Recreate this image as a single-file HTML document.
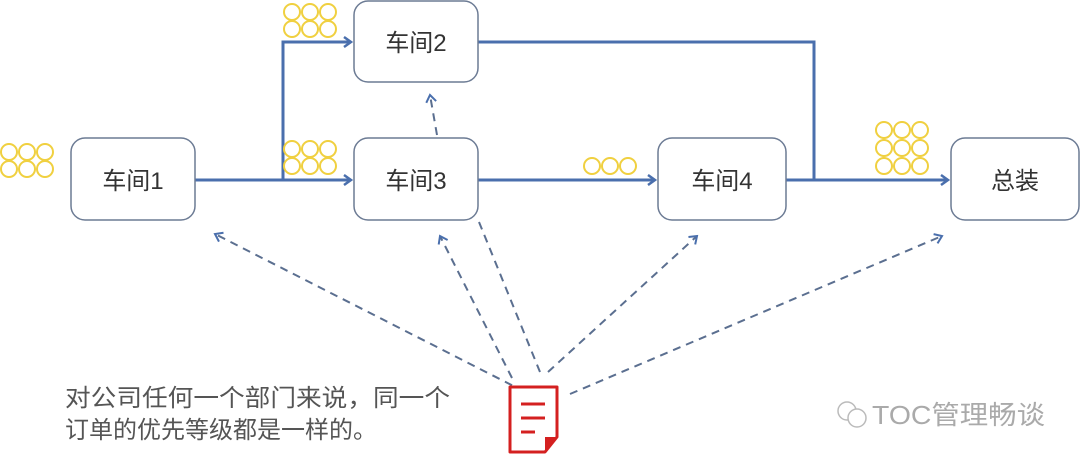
<!DOCTYPE html>
<html><head><meta charset="utf-8"><style>
body{margin:0;background:#fff;width:1080px;height:463px;overflow:hidden}
svg{display:block}
text{font-family:"Liberation Sans","Noto Sans CJK SC",sans-serif}
</style></head><body>
<svg width="1080" height="463" viewBox="0 0 1080 463">
<defs>
<marker id="a" markerWidth="12" markerHeight="12" refX="9" refY="6" orient="auto" markerUnits="userSpaceOnUse"><path d="M2,1 L9,6 L2,11" fill="none" stroke="#4a6fad" stroke-width="2.5"/></marker>
<marker id="d" markerWidth="12" markerHeight="12" refX="9" refY="6" orient="auto" markerUnits="userSpaceOnUse"><path d="M2,1 L9,6 L2,11" fill="none" stroke="#4a6fad" stroke-width="2"/></marker>
<g id="c3"><circle cx="9" cy="9" r="8" fill="#fff" stroke="#f0d040" stroke-width="2"/><circle cx="27" cy="9" r="8" fill="#fff" stroke="#f0d040" stroke-width="2"/><circle cx="45" cy="9" r="8" fill="#fff" stroke="#f0d040" stroke-width="2"/></g>
</defs>
<g stroke="#4a6fad" stroke-width="3" fill="none">
<path d="M195,180 H351" marker-end="url(#a)"/>
<path d="M283,180 V42 H351" marker-end="url(#a)"/>
<path d="M478,180 H655" marker-end="url(#a)"/>
<path d="M786,180 H948" marker-end="url(#a)"/>
<path d="M478,42 H814 V180"/>
</g>
<g stroke="#5b6f90" stroke-width="2" stroke-dasharray="8,6" fill="none">
<path d="M537,398 L215,234" marker-end="url(#d)"/>
<path d="M512,378 L440,236" marker-end="url(#d)"/>
<path d="M540,372 L479,222"/>
<path d="M548,372 L697,236" marker-end="url(#d)"/>
<path d="M570,394 L942,236" marker-end="url(#d)"/>
<path d="M437,135 L430,95" marker-end="url(#d)"/>
</g>
<g fill="#fff" stroke="#6c7b94" stroke-width="1.5">
<rect x="71" y="138" width="124" height="82" rx="14"/>
<rect x="354" y="1" width="124" height="81" rx="14"/>
<rect x="354" y="138" width="124" height="82" rx="14"/>
<rect x="658" y="138" width="128" height="82" rx="14"/>
<rect x="951" y="138" width="128" height="82" rx="14"/>
</g>
<g font-size="24" fill="#333" text-anchor="middle">
<text x="133" y="189">车间1</text>
<text x="416" y="51">车间2</text>
<text x="416" y="189">车间3</text>
<text x="722" y="189">车间4</text>
<text x="1015" y="189">总装</text>
</g>
<use href="#c3" x="0" y="143"/><use href="#c3" x="0" y="160"/>
<use href="#c3" x="283" y="3"/><use href="#c3" x="283" y="20"/>
<use href="#c3" x="283" y="140"/><use href="#c3" x="283" y="157"/>
<use href="#c3" x="583" y="157"/>
<use href="#c3" x="875" y="121"/><use href="#c3" x="875" y="139"/><use href="#c3" x="875" y="157"/>
<g>
<path d="M510,387 H557 V437 L545,452 H510 Z" fill="#fff" stroke="#d42020" stroke-width="3" stroke-linejoin="round"/>
<path d="M545,452 L557,437 H545 Z" fill="#d42020"/>
<g stroke="#d42020" stroke-width="3"><path d="M521,404 H545 M521,418 H545 M521,432 H535"/></g>
</g>
<g font-size="24" fill="#555">
<text x="65" y="406" textLength="385" lengthAdjust="spacingAndGlyphs">对公司任何一个部门来说，同一个</text>
<text x="65" y="438">订单的优先等级都是一样的。</text>
</g>
<text x="872" y="424" font-size="26" fill="#aaa" textLength="173" lengthAdjust="spacingAndGlyphs">TOC管理畅谈</text>
<circle cx="847" cy="411" r="9" fill="none" stroke="#bbb" stroke-width="1.5"/>
<circle cx="857" cy="418" r="9" fill="#fff" stroke="#bbb" stroke-width="1.5"/>
</svg>
</body></html>
